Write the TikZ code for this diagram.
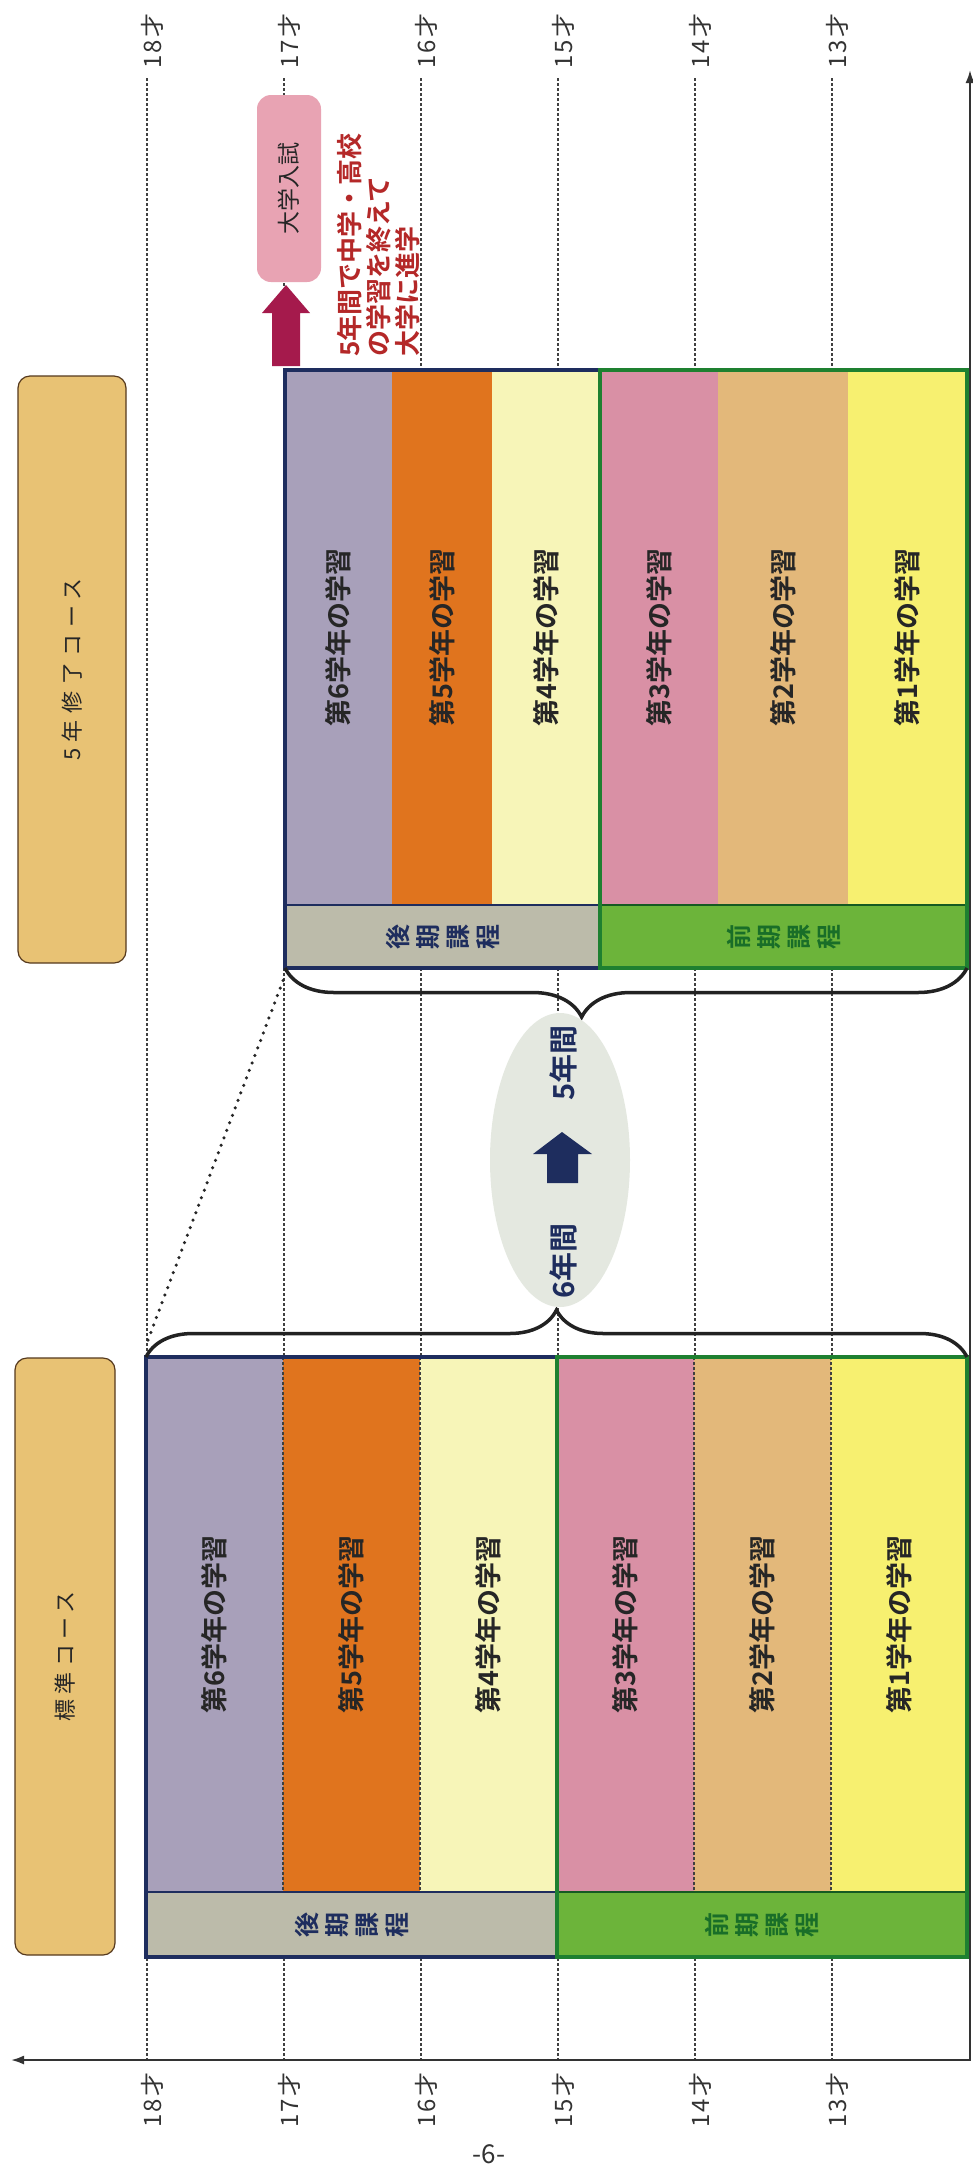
\documentclass[tikz,border=0pt]{standalone}
\usepackage{fontspec}
\setmainfont{Noto Sans CJK JP}[BoldFont={Noto Sans CJK JP Bold}]
\usetikzlibrary{shapes.geometric,decorations.pathreplacing,arrows.meta}
\newcommand{\myfs}[1]{\fontsize{#1}{#1}\selectfont}
\definecolor{cSix}{RGB}{168,160,186}
\definecolor{cFive}{RGB}{224,116,30}
\definecolor{cFour}{RGB}{247,245,184}
\definecolor{cThree}{RGB}{217,144,165}
\definecolor{cTwo}{RGB}{227,184,122}
\definecolor{cOne}{RGB}{247,240,112}
\definecolor{courseC}{RGB}{232,194,116}
\definecolor{lateC}{RGB}{188,187,170}
\definecolor{earlyC}{RGB}{108,180,58}
\definecolor{navyC}{RGB}{30,45,94}
\definecolor{greenC}{RGB}{30,128,48}
\definecolor{greenT}{RGB}{25,110,40}
\definecolor{pinkC}{RGB}{232,163,179}
\definecolor{arrowR}{RGB}{165,26,76}
\definecolor{redT}{RGB}{180,40,40}
\definecolor{ellC}{RGB}{228,232,224}
\definecolor{braceC}{RGB}{34,34,34}
\tikzset{
  ageline/.style={draw=black!75, line width=1.2pt, dash pattern=on 3pt off 2pt},
  axisline/.style={draw=black!80, line width=2pt},
  agelab/.style={rotate=90, inner sep=0pt, font=\myfs{24}\addfontfeature{LetterSpace=10}, text=black!80},
  course/.style={draw=black!55!brown, line width=1.2pt, fill=courseC, rounded corners=12pt, rotate=90, inner sep=0pt, text=black!85},
  col/.style={rotate=90, inner sep=0pt, outer sep=0pt, font=\bfseries\myfs{27}, text=black!85},
  stripe/.style={rotate=90, inner sep=0pt, outer sep=0pt, align=center, font=\bfseries\fontsize{25}{30}\selectfont},
  navyframe/.style={draw=navyC, line width=4.5pt},
  greenframe/.style={draw=greenC, line width=4.5pt},
  bracestyle/.style={draw=braceC, line width=3.5pt, decorate},
  dotline/.style={draw=black!85, line width=3.5pt, line cap=round, dash pattern=on 0pt off 8pt},
  elltxt/.style={rotate=90, inner sep=0pt, font=\bfseries\myfs{29}, text=navyC},
}
\begin{document}
\begin{tikzpicture}[x=1pt,y=-1pt]
\useasboundingbox (0,0) rectangle (973,2172);
\fill[white] (0,0) rectangle (973,2172);

% age grid lines and labels
\foreach \ag/\x in {18/147,17/284,16/421,15/558,14/695,13/832} {
  \coordinate (t\ag) at (\x,78);
  \coordinate (b\ag) at (\x,2060);
  \draw[ageline] (t\ag) -- (b\ag);
  \node[agelab] (lt\ag) at (\x+5,41) {{\ag}才};
  \node[agelab] (lb\ag) at (\x+5,2100) {{\ag}才};
}

% axes
\coordinate (axL) at (11,2060);
\coordinate (axC) at (970,2060);
\coordinate (axT) at (970,70);
\draw[axisline, {Latex[length=13pt,width=9pt]}-{Latex[length=13pt,width=9pt]}] (axL) -- (axC) -- (axT);

% course labels
\node[course, minimum width=587pt, minimum height=108pt, font=\myfs{22}\addfontfeature{LetterSpace=30}] (cU) at (72,669.5) {5年修了コース};
\node[course, minimum width=597pt, minimum height=100pt, font=\myfs{22}\addfontfeature{LetterSpace=25}] (cL) at (65,1656.5) {標準コース};

% ===== lower (standard) course =====
\node[col, fill=cSix,   minimum width=535pt, minimum height=137pt] (L6) at (214.5,1624.5) {第6学年の学習};
\node[col, fill=cFive,  minimum width=535pt, minimum height=137pt] (L5) at (351.5,1624.5) {第5学年の学習};
\node[col, fill=cFour,  minimum width=535pt, minimum height=137pt] (L4) at (488.5,1624.5) {第4学年の学習};
\node[col, fill=cThree, minimum width=535pt, minimum height=137pt] (L3) at (625.5,1624.5) {第3学年の学習};
\node[col, fill=cTwo,   minimum width=535pt, minimum height=137pt] (L2) at (762.5,1624.5) {第2学年の学習};
\node[col, fill=cOne,   minimum width=535pt, minimum height=136pt] (L1) at (899,1624.5) {第1学年の学習};
\node[stripe, fill=lateC,  text=navyC,  minimum width=65pt, minimum height=411pt] (Llate) at (351.5,1924.5) {後\\期\\課\\程};
\node[stripe, fill=earlyC, text=greenT, minimum width=65pt, minimum height=410pt] (Learly) at (762,1924.5) {前\\期\\課\\程};
\foreach \x in {283,420,694,831} \draw[ageline] (\x,1357) -- (\x,1892);
\draw[draw=navyC, line width=1.5pt] (146,1892) -- (557,1892);
\draw[draw=greenC!70!black, line width=1.5pt] (557,1892) -- (967,1892);
\draw[navyframe] (146,1357) rectangle (557,1957);
\draw[greenframe] (557,1357) rectangle (967,1957);

% ===== upper (5-year) course =====
\node[col, fill=cSix,   minimum width=535pt, minimum height=107pt] (U6) at (338.5,637.5) {第6学年の学習};
\node[col, fill=cFive,  minimum width=535pt, minimum height=100pt] (U5) at (442,637.5) {第5学年の学習};
\node[col, fill=cFour,  minimum width=535pt, minimum height=108pt] (U4) at (546,637.5) {第4学年の学習};
\node[col, fill=cThree, minimum width=535pt, minimum height=118pt] (U3) at (659,637.5) {第3学年の学習};
\node[col, fill=cTwo,   minimum width=535pt, minimum height=130pt] (U2) at (783,637.5) {第2学年の学習};
\node[col, fill=cOne,   minimum width=535pt, minimum height=119pt] (U1) at (907.5,637.5) {第1学年の学習};
\node[stripe, fill=lateC,  text=navyC,  minimum width=63pt, minimum height=315pt] (Ulate) at (442.5,936.5) {後\\期\\課\\程};
\node[stripe, fill=earlyC, text=greenT, minimum width=63pt, minimum height=367pt] (Uearly) at (783.5,936.5) {前\\期\\課\\程};
\draw[draw=navyC, line width=1.5pt] (285,905) -- (600,905);
\draw[draw=greenC!70!black, line width=1.5pt] (600,905) -- (967,905);
\draw[navyframe] (285,370) rectangle (600,968);
\draw[greenframe] (600,370) rectangle (967,968);

% braces
\coordinate (bLa) at (146,1357);
\coordinate (bLb) at (967,1357);
\coordinate (bUa) at (967,968);
\coordinate (bUb) at (285,968);
\draw[bracestyle, decoration={brace, amplitude=47pt, aspect=0.5}] (bLa) -- (bLb);
\draw[bracestyle, decoration={brace, amplitude=49pt, aspect=0.565}] (bUa) -- (bUb);

% dotted zoom line
\coordinate (dA) at (148,1340);
\coordinate (dB) at (284,978);
\draw[dotline] (dA) -- (dB);

% ellipse with 6 -> 5 years
\node[ellipse, fill=ellC, minimum width=140pt, minimum height=294pt, inner sep=0pt] (E) at (560,1160) {};
\node[elltxt] (E5) at (563,1063) {5年間};
\node[elltxt] (E6) at (563,1261) {6年間};
\fill[navyC] (562,1132) -- (592,1154) -- (578,1154) -- (578,1183) -- (547,1183) -- (547,1154) -- (533,1154) -- cycle;

% university entrance
\node[rotate=90, fill=pinkC, rounded corners=14pt, minimum width=187pt, minimum height=64pt, inner sep=0pt, font=\myfs{23}, text=black!85] (P) at (289,188.5) {大学入試};
\fill[arrowR] (286,285) -- (310,313) -- (300,313) -- (300,366) -- (272,366) -- (272,313) -- (262,313) -- cycle;
\node[rotate=90, anchor=north west, align=left, inner sep=0pt, font=\bfseries\fontsize{26}{29}\selectfont, text=redT] (R) at (337,357) {5年間で中学・高校\\の学習を終えて\\大学に進学};

% page number
\node[font=\myfs{26}, text=black!80] (pg) at (489,2154) {-6-};
\end{tikzpicture}
\end{document}
